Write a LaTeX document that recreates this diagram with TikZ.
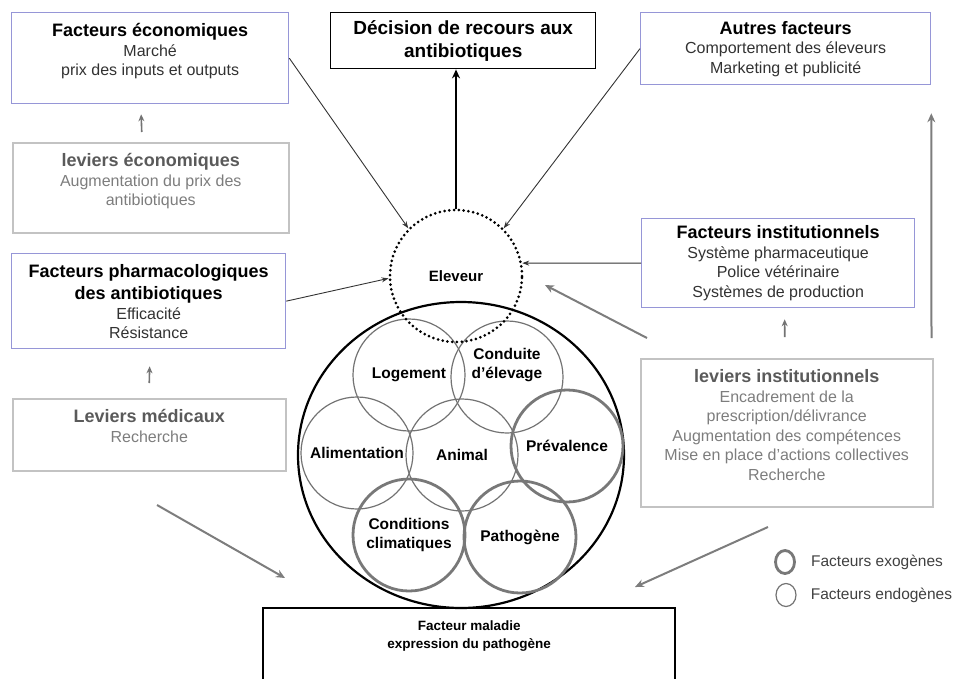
\documentclass[tikz,border=0pt]{standalone}
\usepackage{fontspec}
\setmainfont{Liberation Sans}
\usetikzlibrary{arrows.meta,shapes.geometric,positioning}

\definecolor{factblue}{RGB}{150,150,215}
\definecolor{levgray}{RGB}{195,195,195}
\definecolor{levtitle}{RGB}{90,90,90}
\definecolor{levtext}{RGB}{125,125,125}
\definecolor{bodytext}{RGB}{50,50,50}
\definecolor{exogray}{RGB}{120,120,120}
\definecolor{endogray}{RGB}{115,115,115}
\definecolor{arrgray}{RGB}{125,125,125}

\newcommand{\boxtitle}[2][black]{{\color{#1}\fontsize{18}{22}\selectfont\bfseries #2\par}}
\newcommand{\boxbody}{\fontsize{16}{19.5}\selectfont}
\newcommand{\circfont}{\fontsize{15.5}{19}\selectfont\bfseries}
% boite a texte aligne en haut : largeur, hauteur, contenu
\newcommand{\topbox}[3]{\parbox[c][#2][t]{#1}{\centering\vspace*{11pt}#3}}
\newcommand{\midbox}[3]{\parbox[c][#2][c]{#1}{\centering #3}}

\begin{document}
\begin{tikzpicture}[x=1pt,y=-1pt,
    factbox/.style={draw=factblue,line width=1.3pt,inner sep=0pt,anchor=north west,text=bodytext},
    levbox/.style={draw=levgray,line width=1.5pt,inner sep=0pt,anchor=north west,text=levtext},
    blackbox/.style={draw=black,line width=1.4pt,inner sep=0pt,anchor=north west},
    endo/.style={circle,draw=endogray,line width=1.2pt,minimum size=112pt,inner sep=0pt,align=center,font=\circfont},
    exo/.style={endo,draw=exogray,line width=2.8pt},
    lab/.style={inner sep=0pt,align=center,font=\circfont},
    thinarr/.style={draw=black!80,line width=0.9pt,-{Stealth[length=7pt,width=5pt]}},
    smallarr/.style={draw=black!55,line width=1.6pt,-{Stealth[length=7pt,width=6pt]}},
    grayarr/.style={draw=arrgray,line width=2pt,-{Stealth[length=9pt,width=8pt]}},
    legtext/.style={inner sep=0pt,text=black!75,font=\fontsize{15.5}{18}\selectfont}]
  \useasboundingbox (0,0) rectangle (956,678);

  % boites de gauche
  \node[factbox] (feco) at (11,12) {\topbox{277pt}{91pt}{\boxtitle{Facteurs économiques}\boxbody Marché\\prix des inputs et outputs}};
  \node[levbox] (leveco) at (12,142) {\topbox{276pt}{90pt}{\boxtitle[levtitle]{leviers économiques}\boxbody Augmentation du prix des\\antibiotiques}};
  \node[factbox] (fpharma) at (11,253) {\topbox{274pt}{95pt}{\boxtitle{Facteurs pharmacologiques\\des antibiotiques}\boxbody Efficacité\\Résistance}};
  \node[levbox] (levmed) at (12,398) {\topbox{273pt}{72pt}{\boxtitle[levtitle]{Leviers médicaux}\boxbody Recherche}};

  % boites du haut et de droite
  \node[blackbox] (decision) at (330,12) {\midbox{265pt}{56pt}{\fontsize{19}{23}\selectfont\bfseries Décision de recours aux\\antibiotiques}};
  \node[factbox] (autres) at (640,12) {\midbox{290pt}{72pt}{\boxtitle{Autres facteurs}\boxbody Comportement des éleveurs\\Marketing et publicité}};
  \node[factbox] (finst) at (641,218) {\midbox{273pt}{89pt}{\boxtitle{Facteurs institutionnels}\boxbody Système pharmaceutique\\Police vétérinaire\\Systèmes de production}};
  \node[levbox] (levinst) at (640,358) {\topbox{292pt}{148pt}{\boxtitle[levtitle]{leviers institutionnels}\boxbody Encadrement de la\\prescription/délivrance\\Augmentation des compétences\\Mise en place d'actions collectives\\Recherche}};

  % facteur maladie (coupe en bas)
  \node[blackbox,line width=2.4pt] (maladie) at (262,607) {\parbox[c][100pt][t]{412pt}{\centering\vspace*{13pt}\fontsize{13.5}{18}\selectfont\bfseries Facteur maladie\\expression du pathogène}};

  % troupeau et facteurs
  \node[ellipse,draw,line width=2.2pt,minimum width=326pt,minimum height=306pt] (troupeau) at (461,455) {};
  \node[endo] (logement) at (409,375) {Logement};
  \node[endo] (conduite) at (507,377) {};
  \node[lab] (lconduite) at (507,365) {Conduite\\d'élevage};
  \node[endo] (aliment) at (357,453) {Alimentation};
  \node[endo] (animal) at (462,455) {Animal};
  \node[exo] (prevalence) at (567,446) {Prévalence};
  \node[exo] (climat) at (409,535) {Conditions\\climatiques};
  \node[exo] (pathogene) at (520,537) {Pathogène};

  \node[circle,draw,line width=3pt,dash pattern=on 0pt off 4.8pt,line cap=round,
        minimum size=132pt,inner sep=0pt,font=\fontsize{15}{18}\selectfont\bfseries] (eleveur) at (456,276) {Eleveur};

  % fleches vers l'eleveur
  \draw[thinarr] (feco.east) -- (eleveur.135);
  \draw[thinarr] (autres.west) -- (eleveur.45);
  \draw[thinarr] (finst.west) -- (eleveur.11);
  \draw[thinarr] (fpharma.east) -- (eleveur.182);
  \draw[draw=black,line width=2.5pt,-{Stealth[length=9pt,width=8pt]}] (eleveur.north) -- (eleveur.north |- decision.south);

  % leviers
  \draw[smallarr] ([xshift=-9pt,yshift=10pt]leveco.north) -- ([xshift=-9pt,yshift=-10pt]feco.south);
  \draw[smallarr] ([yshift=15pt]levmed.north) -- ([xshift=1pt,yshift=-17pt]fpharma.south);
  \draw[smallarr] ([xshift=-2pt,yshift=21pt]levinst.north) -- ([xshift=6.5pt,yshift=-11pt]finst.south);
  \draw[grayarr] ([xshift=-2pt,yshift=20pt]levinst.north east) -- ([yshift=-28pt]autres.south east);

  \coordinate (g1a) at (647,338);
  \coordinate (g1b) at (545,285);
  \coordinate (g2a) at (157,505);
  \coordinate (g2b) at (285,578);
  \coordinate (g3a) at (768,527);
  \coordinate (g3b) at (635,587);
  \draw[grayarr] (g1a) -- (g1b);
  \draw[grayarr] (g2a) -- (g2b);
  \draw[grayarr] (g3a) -- (g3b);

  % legende
  \node[ellipse,draw=exogray,line width=2.8pt,minimum width=19pt,minimum height=23pt,inner sep=0pt] (legexo) at (785,562) {};
  \node[ellipse,draw=endogray,line width=1.2pt,minimum width=20pt,minimum height=23pt,inner sep=0pt] (legendo) at (786,595) {};
  \node[legtext,right=15pt of legexo] (legexotxt) {Facteurs exogènes};
  \node[legtext,right=14pt of legendo] (legendotxt) {Facteurs endogènes};
\end{tikzpicture}
\end{document}
